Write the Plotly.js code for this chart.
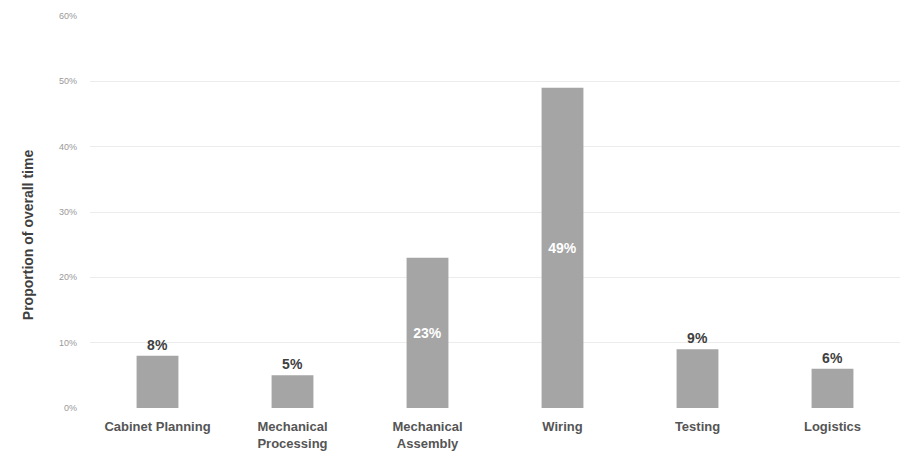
<!DOCTYPE html>
<html>
<head>
<meta charset="utf-8">
<script src="https://cdn.plot.ly/plotly-3.0.1.min.js"></script>
<style>html,body{margin:0;padding:0;background:#fff;}#chart{width:901px;height:451px;}</style>
</head>
<body>
<div id="chart"></div>
<script>
const categories = ["Cabinet Planning", "Mechanical<br>Processing", "Mechanical<br>Assembly", "Wiring", "Testing", "Logistics"];
const values = [8, 5, 23, 49, 9, 6];
const labelPositions = ["outside", "outside", "inside", "inside", "outside", "outside"];
const yTickValues = [0, 10, 20, 30, 40, 50, 60];
const yAxisTitle = "Proportion of overall time";

const FONT = "Liberation Sans";

const trace = {
  type: "bar",
  x: categories,
  y: values,
  marker: {color: "#a5a5a5"},
  text: values.map(v => v + "%"),
  textposition: labelPositions,
  insidetextanchor: "middle",
  textangle: 0,
  cliponaxis: false,
  insidetextfont: {family: FONT, size: 14, color: "#ffffff", weight: "bold"},
  outsidetextfont: {family: FONT, size: 14, color: "#404040", weight: "bold"},
  hoverinfo: "none"
};

const layout = {
  width: 901, height: 451,
  margin: {l: 90, r: 1, t: 16, b: 43},
  paper_bgcolor: "#ffffff", plot_bgcolor: "#ffffff",
  showlegend: false,
  bargap: 0.69,
  xaxis: {
    type: "category",
    showgrid: false, zeroline: false, showline: false,
    ticks: "",
    ticklabelstandoff: 9,
    tickfont: {family: FONT, size: 13, color: "#555555", weight: "bold"},
    automargin: false
  },
  yaxis: {
    range: [0, 60],
    tickvals: yTickValues,
    ticktext: yTickValues.map(v => v + "%"),
    showgrid: true, gridcolor: "#ececec", gridwidth: 1,
    zeroline: false, showline: false,
    ticks: "",
    ticklabelstandoff: 12,
    tickfont: {family: FONT, size: 9, color: "#999999"},
    automargin: false
  },
  annotations: [{
    text: yAxisTitle,
    xref: "paper", yref: "paper",
    x: -0.0765, y: 0.441,
    xanchor: "center", yanchor: "middle",
    textangle: -90,
    showarrow: false,
    font: {family: FONT, size: 14, color: "#404040", weight: "bold"}
  }]
};

Plotly.newPlot("chart", [trace], layout, {displayModeBar: false, staticPlot: true});
</script>
</body>
</html>
